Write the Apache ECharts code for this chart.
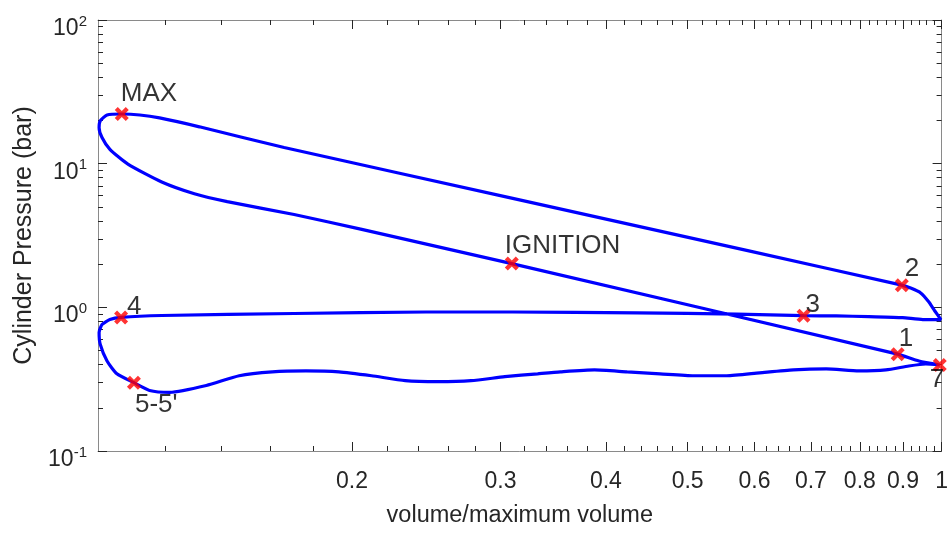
<!DOCTYPE html>
<html><head><meta charset="utf-8">
<script src="https://cdn.jsdelivr.net/npm/echarts@6/dist/echarts.min.js"></script>
<style>html,body{margin:0;padding:0;background:#fff}#c{width:951px;height:533px}</style>
</head><body><div id="c"></div>
<script>
// ---- data: volume ratio (V/Vmax) and cylinder pressure (bar) ----
// compression: 7 -> 1 -> IGNITION -> left loop -> MAX
const compV = [0.995,0.940,0.887,0.3094,0.2048,0.1708,0.1423,0.1301,0.119,0.1085,0.1033,0.1011,0.1003,0.1006,0.1025,0.1067];
const compP = [0.397,0.423,0.472,2.015,3.50,4.43,5.44,6.17,7.45,9.92,12.57,15.19,17.78,19.83,21.82,22.17];
// expansion: MAX -> 2 -> blowdown
const expV = [0.1121,0.1183,0.1319,0.1662,0.3102,0.5873,0.8971,0.919,0.9445,0.9654,0.9812,0.998];
const expP = [21.82,20.81,18.05,12.96,5.73,2.49,1.427,1.361,1.259,1.092,0.947,0.822];
// exhaust: -> 3 -> 4 -> loop -> 5-5'
const exhV = [0.950,0.899,0.820,0.750,0.686,0.5716,0.4356,0.3102,0.2449,0.1708,0.119,0.1065,0.1033,0.1011,0.1003,0.1006,0.1025,0.1053,0.1103];
const exhP = [0.822,0.848,0.861,0.872,0.875,0.898,0.915,0.928,0.928,0.906,0.877,0.851,0.822,0.759,0.669,0.554,0.423,0.345,0.299];
// intake: 5-5' -> 7
const intV = [0.1151,0.1216,0.1344,0.147,0.1609,0.1764,0.1930,0.211,0.2313,0.2531,0.2768,0.3036,0.332,0.3534,0.3877,0.4239,0.4637,0.5085,0.5563,0.6084,0.6673,0.7299,0.798,0.859,0.9143,0.9575,0.995];
const intP = [0.264,0.256,0.2855,0.334,0.3556,0.361,0.3556,0.334,0.3088,0.304,0.3088,0.329,0.3446,0.3556,0.367,0.3556,0.3446,0.334,0.334,0.350,0.367,0.3727,0.361,0.367,0.3905,0.4032,0.397];

// marked points
const markNames = ['MAX','IGNITION','2','3','1','7','4',"5-5'"];
const markV = [0.1067,0.3094,0.8971,0.686,0.887,0.995,0.1065,0.1103];
const markP = [22.17,2.015,1.427,0.875,0.472,0.397,0.848,0.299];

// axes
const xMin = 0.1, xMax = 1;
const yMin = 0.1, yMax = 100;
const xTickLabels = [0.2,0.3,0.4,0.5,0.6,0.7,0.8,0.9,1];
const xMinorTicks = [0.12,0.14,0.16,0.18,0.22,0.24,0.26,0.28,0.32,0.34,0.36,0.38,0.42,0.44,0.46,0.48,0.52,0.54,0.56,0.58,0.62,0.64,0.66,0.68,0.72,0.74,0.76,0.78,0.82,0.84,0.86,0.88,0.92,0.94,0.96,0.98];
const yTickLabels = [0.1,1,10,100];
const yMinorTicks = [0.2,0.3,0.4,0.5,0.6,0.7,0.8,0.9,2,3,4,5,6,7,8,9,20,30,40,50,60,70,80,90];

// ---- build ----
const L = Math.log10;
const allV = compV.concat(expV, exhV, intV);
const allP = compP.concat(expP, exhP, intP);
const lineData = allV.map((v,i)=>[L(v), L(allP[i])]);

const labelStyle = {
  'MAX':[-1,-20], 'IGNITION':[-7,-18], '2':[3,-16], '3':[2,-11],
  '1':[1,-15], '7':[-10,15], '4':[6,-11], "5-5'":[1,22]
};
const markData = markNames.map((n,i)=>({
  value:[L(markV[i]), L(markP[i])], name:n,
  label:{offset: labelStyle[n]}
}));

const FONT = 'Liberation Sans';
const axisGray = '#8a8a8a';
const txt = '#262626';

function xAx(pos, ticks, len, showLabel, showLine){
  return {
    type:'value', position:pos, min:L(xMin), max:L(xMax), gridIndex:0,
    axisLine:{show:showLine, onZero:false, lineStyle:{color:axisGray, width:1}},
    axisTick:{show:true, inside:true, length:len, customValues:ticks.map(L), lineStyle:{color:'#262626', width:1}},
    axisLabel:{show:showLabel, customValues:xTickLabels.map(L), margin:19,
      fontFamily:FONT, fontSize:23, color:txt,
      formatter:(v)=>String(+Math.pow(10,v).toFixed(1))},
    splitLine:{show:false},
    name: showLabel ? 'volume/maximum volume' : '',
    nameLocation:'middle', nameGap:53,
    nameTextStyle:{fontFamily:FONT, fontSize:23.5, color:txt}
  };
}
function yAx(pos, ticks, len, showLabel, showLine){
  return {
    type:'value', position:pos, min:L(yMin), max:L(yMax), gridIndex:0,
    axisLine:{show:showLine, onZero:false, lineStyle:{color:axisGray, width:1}},
    axisTick:{show:true, inside:true, length:len, customValues:ticks.map(L), lineStyle:{color:'#262626', width:1}},
    axisLabel:{show:showLabel, customValues:yTickLabels.map(L), margin:11,
      fontFamily:FONT, color:txt, padding:[14,0,0,0],
      formatter:(v)=>'{b|10}{s|'+Math.round(v)+'}',
      rich:{b:{fontSize:23, fontFamily:FONT, color:txt, verticalAlign:'bottom', lineHeight:26},
            s:{fontSize:15, fontFamily:FONT, color:txt, verticalAlign:'top', lineHeight:15, padding:[0,0,12,0]}}},
    splitLine:{show:false},
    name: showLabel ? 'Cylinder Pressure (bar)' : '',
    nameLocation:'middle', nameGap:61,
    nameTextStyle:{fontFamily:FONT, fontSize:25, color:txt}
  };
}

const chart = echarts.init(document.getElementById('c'), null, {renderer:'canvas'});
chart.setOption({
  animation:false,
  backgroundColor:'#fff',
  grid:{left:98, right:5, top:20, bottom:75, containLabel:false},
  xAxis:[
    xAx('bottom', xTickLabels, 9, true, true),
    xAx('bottom', xMinorTicks, 5, false, false),
    xAx('top', xTickLabels, 9, false, true),
    xAx('top', xMinorTicks, 5, false, false)
  ],
  yAxis:[
    yAx('left', yTickLabels, 9, true, true),
    yAx('left', yMinorTicks, 5, false, false),
    yAx('right', yTickLabels, 9, false, true),
    yAx('right', yMinorTicks, 5, false, false)
  ],
  series:[
    {type:'line', xAxisIndex:0, yAxisIndex:0, data:lineData, showSymbol:false,
     smooth:0.2, lineStyle:{color:'#0000ff', width:3.2}, z:2, clip:false},
    {type:'scatter', xAxisIndex:0, yAxisIndex:0, data:markData, z:3, clip:false,
     symbol:'path://M0,3 L3,0 L7,4 L11,0 L14,3 L10,7 L14,11 L11,14 L7,10 L3,14 L0,11 L4,7 Z',
     symbolSize:14, itemStyle:{color:'#ff0000'},
     label:{show:true, position:'inside', align:'left', verticalAlign:'middle',
       formatter:(p)=>p.name, fontFamily:FONT, fontSize:26, color:'#000'}}
  ]
});
</script></body></html>
